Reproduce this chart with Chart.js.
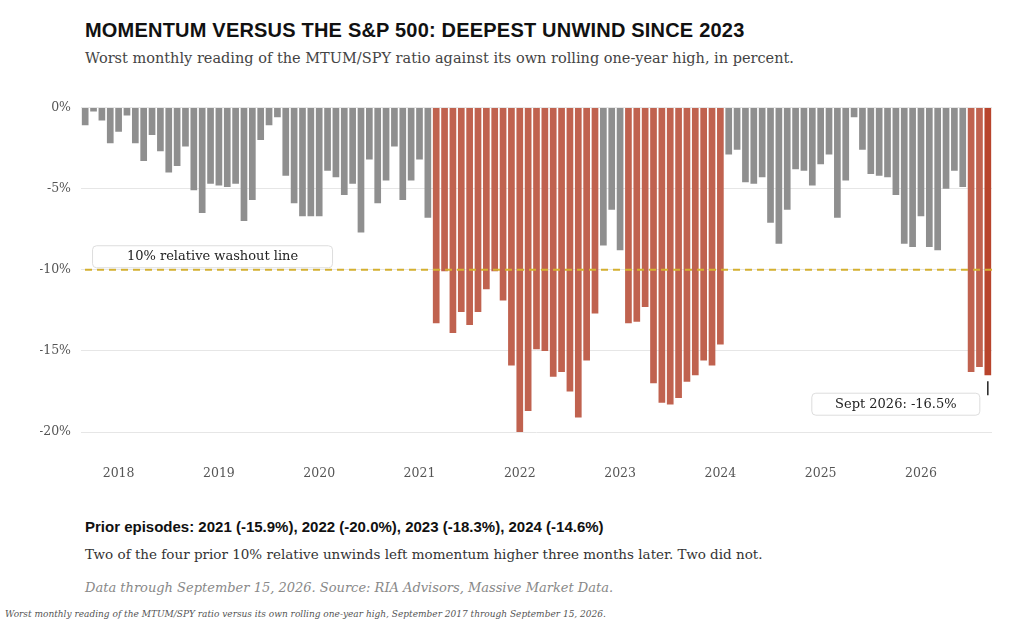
<!DOCTYPE html>
<html>
<head>
<meta charset="utf-8">
<script src="https://cdn.jsdelivr.net/npm/chart.js@4"></script>
<style>
  body { margin: 0; width: 1024px; height: 622px; background: #fff; position: relative; overflow: hidden; }
  .t { position: absolute; white-space: nowrap; }
  #title { left: 85px; top: 19px; font: bold 20px "Liberation Sans", Arial, sans-serif; color: #111; letter-spacing: 0.2px; }
  #sub { left: 85px; top: 50px; font: 15.5px "DejaVu Serif", serif; color: #444; font-size: 14.5px; }
  #prior { left: 85px; top: 518px; font: bold 15px "Liberation Sans", Arial, sans-serif; color: #111; }
  #note { left: 85px; top: 546px; font: 14px "DejaVu Serif", serif; color: #333; font-size: 13.5px; }
  #src { left: 85px; top: 580px; font: italic 13px "DejaVu Serif", serif; color: #888; }
  #foot { left: 5px; top: 609px; font: italic 9px "DejaVu Serif", serif; color: #555; }
  #wrap { position: absolute; left: 40px; top: 90px; width: 960px; height: 390px; }
</style>
</head>
<body>
<div class="t" id="title">MOMENTUM VERSUS THE S&amp;P 500: DEEPEST UNWIND SINCE 2023</div>
<div class="t" id="sub">Worst monthly reading of the MTUM/SPY ratio against its own rolling one-year high, in percent.</div>
<div id="wrap"><canvas id="chart"></canvas></div>
<div class="t" id="prior">Prior episodes: 2021 (-15.9%), 2022 (-20.0%), 2023 (-18.3%), 2024 (-14.6%)</div>
<div class="t" id="note">Two of the four prior 10% relative unwinds left momentum higher three months later. Two did not.</div>
<div class="t" id="src">Data through September 15, 2026. Source: RIA Advisors, Massive Market Data.</div>
<div class="t" id="foot">Worst monthly reading of the MTUM/SPY ratio versus its own rolling one-year high, September 2017 through September 15, 2026.</div>
<script>
// months Sept 2017 .. Sept 2026
const months = [];
for (let y = 2017; y <= 2026; y++) {
  for (let m = 1; m <= 12; m++) {
    if ((y === 2017 && m < 9) || (y === 2026 && m > 9)) continue;
    months.push(y + '-' + String(m).padStart(2, '0'));
  }
}

const drawdown = [
  -1.1, -0.25, -0.8, -2.2, -1.5, -0.5, -2.2, -3.3, -1.7, -2.7, -4.0, -3.6,
  -2.4, -5.1, -6.5, -4.7, -4.8, -4.9, -4.7, -7.0, -5.7, -2.0, -1.1, -0.6,
  -4.2, -5.9, -6.7, -6.7, -6.7, -3.9, -4.3, -5.4, -4.7, -7.7, -3.2, -5.9,
  -4.5, -2.4, -5.7, -4.5, -3.2, -6.8, -13.3, -10.1, -13.9, -12.6, -13.4, -12.6,
  -11.2, -10.1, -11.9, -15.9, -20.0, -18.7, -14.9, -15.0, -16.6, -16.3, -17.5, -19.1,
  -15.6, -12.7, -8.5, -6.3, -8.8, -13.3, -13.2, -12.3, -17.0, -18.2, -18.3, -17.9,
  -16.9, -16.5, -15.6, -15.9, -14.6, -2.9, -2.6, -4.6, -4.7, -4.3, -7.1, -8.4,
  -6.3, -3.8, -3.9, -4.8, -3.5, -2.9, -6.8, -4.5, -0.6, -2.6, -4.1, -4.2,
  -4.3, -5.4, -8.4, -8.6, -6.7, -8.6, -8.8, -5.0, -3.9, -4.9, -16.3, -16.0,
  -16.5
];

const washout = -10;
const yTicks = [0, -5, -10, -15, -20];

const barColors = drawdown.map((v, i) =>
  i === drawdown.length - 1 ? '#b8442c' : (v < washout ? '#c0624f' : '#8f8f8f'));

const annotate = {
  id: 'annotate',
  afterDatasetsDraw(chart) {
    const ctx = chart.ctx, xs = chart.scales.x, ys = chart.scales.y;
    const yw = ys.getPixelForValue(washout);
    ctx.save();
    // washout line
    ctx.strokeStyle = '#d4b030';
    ctx.lineWidth = 2;
    ctx.setLineDash([7, 5]);
    ctx.beginPath();
    ctx.moveTo(chart.chartArea.left + 4, yw);
    ctx.lineTo(chart.chartArea.right, yw);
    ctx.stroke();
    ctx.setLineDash([]);

    function box(x, y, w, h, text) {
      ctx.fillStyle = '#fff';
      ctx.strokeStyle = '#ddd';
      ctx.lineWidth = 1;
      ctx.beginPath();
      ctx.roundRect(x, y, w, h, 4);
      ctx.fill();
      ctx.stroke();
      ctx.fillStyle = '#222';
      ctx.font = '13px "DejaVu Serif", serif';
      ctx.textAlign = 'center';
      ctx.textBaseline = 'middle';
      ctx.fillText(text, x + w / 2, y + h / 2);
    }
    box(xs.getPixelForValue(1) - 1, yw - 24, 240, 22, '10% relative washout line');

    const last = drawdown.length - 1;
    const xl = xs.getPixelForValue(last);
    const yl = ys.getPixelForValue(drawdown[last]);
    ctx.strokeStyle = '#222';
    ctx.lineWidth = 1.5;
    ctx.beginPath();
    ctx.moveTo(xl, yl + 6);
    ctx.lineTo(xl, yl + 20);
    ctx.stroke();
    box(xl - 176, yl + 18, 168, 22, 'Sept 2026: -16.5%');
    ctx.restore();
  }
};

new Chart(document.getElementById('chart'), {
  type: 'bar',
  data: {
    labels: months,
    datasets: [{
      data: drawdown,
      backgroundColor: barColors,
      barPercentage: 0.8,
      categoryPercentage: 1
    }]
  },
  options: {
    responsive: true,
    maintainAspectRatio: false,
    animation: false,
    layout: { padding: { top: 11, right: 8, left: 0, bottom: 0 } },
    plugins: { legend: { display: false }, tooltip: { enabled: false } },
    scales: {
      x: {
        grid: { display: false },
        border: { display: false },
        afterFit(axis) { axis.height = 48; },
        ticks: {
          autoSkip: false,
          maxRotation: 0,
          padding: 26,
          color: '#555',
          font: { family: '"DejaVu Serif", serif', size: 12.5 },
          callback(v, i) { return months[i].endsWith('-01') ? months[i].slice(0, 4) : null; }
        }
      },
      y: {
        min: -20,
        max: 0,
        afterFit(axis) { axis.width = 41; },
        afterBuildTicks(axis) { axis.ticks = yTicks.map(v => ({ value: v })); },
        grid: { color: '#e6e6e6', drawTicks: false },
        border: { display: false },
        ticks: {
          padding: 10,
          color: '#555',
          font: { family: '"DejaVu Serif", serif', size: 12.5 },
          callback: v => v + '%'
        }
      }
    }
  },
  plugins: [annotate]
});
</script>
</body>
</html>
